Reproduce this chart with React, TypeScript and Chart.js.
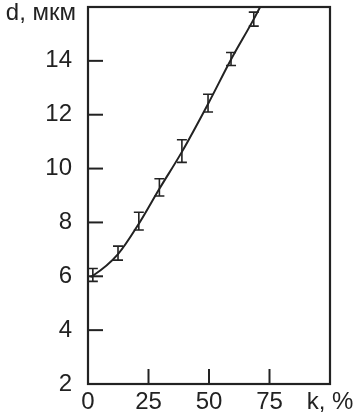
import React, { useEffect, useRef } from "react";
import { Chart, registerables } from "chart.js";

Chart.register(...registerables);

// Measured points (k, %) and thickness d (мкм) with error half-widths
const kValues = [2, 12.4, 21, 29.5, 38.8, 49.6, 59.1, 68.5];
const dValues = [6.05, 6.86, 8.05, 9.3, 10.65, 12.43, 14.07, 15.55];
const dErrors = [0.24, 0.26, 0.33, 0.32, 0.42, 0.33, 0.24, 0.26];

// Smooth fitted curve
const curveK = [1, 2, 12.4, 21, 29.5, 38.8, 49.6, 59.1, 68.5, 74];
const curveD = [5.98, 6.02, 6.82, 7.95, 9.25, 10.62, 12.4, 14.05, 15.55, 16.5];

const xTicks = [0, 25, 50, 75, 100];
const yTicks = [2, 4, 6, 8, 10, 12, 14, 16];
const xUnitLabel = "k, %";
const yUnitLabel = "d, мкм";

const INK = "#222";
const FONT = "'Liberation Sans', Arial, sans-serif";
const FONT_SIZE = 24;

const framePlugin = {
  id: "frameAndBars",
  afterDatasetsDraw(chart: any) {
    const { ctx, chartArea, scales } = chart;
    const xs = scales.x;
    const ys = scales.y;
    ctx.save();
    // error bars
    ctx.strokeStyle = INK;
    ctx.lineWidth = 1.6;
    for (let i = 0; i < kValues.length; i++) {
      const px = xs.getPixelForValue(kValues[i]);
      const pLo = ys.getPixelForValue(dValues[i] - dErrors[i]);
      const pHi = ys.getPixelForValue(dValues[i] + dErrors[i]);
      const cap = 5;
      ctx.beginPath();
      ctx.moveTo(px, pLo);
      ctx.lineTo(px, pHi);
      ctx.moveTo(px - cap, pLo);
      ctx.lineTo(px + cap, pLo);
      ctx.moveTo(px - cap, pHi);
      ctx.lineTo(px + cap, pHi);
      ctx.stroke();
    }
    // frame
    ctx.lineWidth = 2.2;
    ctx.strokeRect(chartArea.left, chartArea.top, chartArea.right - chartArea.left, chartArea.bottom - chartArea.top);
    // inward ticks
    ctx.lineWidth = 2;
    const tl = 15;
    for (const v of yTicks) {
      if (v === ys.min || v === ys.max) continue;
      const py = ys.getPixelForValue(v);
      ctx.beginPath();
      ctx.moveTo(chartArea.left, py);
      ctx.lineTo(chartArea.left + tl, py);
      ctx.stroke();
    }
    for (const v of xTicks) {
      if (v === xs.min || v === xs.max) continue;
      const px = xs.getPixelForValue(v);
      ctx.beginPath();
      ctx.moveTo(px, chartArea.bottom);
      ctx.lineTo(px, chartArea.bottom - tl);
      ctx.stroke();
    }
    // y unit label at the top
    ctx.fillStyle = INK;
    ctx.font = `${FONT_SIZE}px ${FONT}`;
    ctx.textAlign = "right";
    ctx.textBaseline = "alphabetic";
    ctx.fillText(yUnitLabel, chartArea.left - 12, ys.getPixelForValue(ys.max) + 13);
    ctx.restore();
  },
};

export default function App() {
  const ref = useRef<HTMLCanvasElement | null>(null);
  useEffect(() => {
    document.body.style.margin = "0";
    const canvas = ref.current;
    if (!canvas) return;
    const chart = new Chart(canvas, {
      type: "scatter",
      data: {
        datasets: [
          {
            type: "line",
            data: curveK.map((k, i) => ({ x: k, y: curveD[i] })),
            borderColor: INK,
            borderWidth: 2,
            pointRadius: 0,
            cubicInterpolationMode: "monotone",
            fill: false,
          } as any,
          {
            data: kValues.map((k, i) => ({ x: k, y: dValues[i] })),
            pointRadius: 0,
            borderColor: INK,
            backgroundColor: INK,
          },
        ],
      },
      options: {
        animation: false,
        responsive: true,
        maintainAspectRatio: false,
        layout: { padding: { top: 7, right: 0, left: 0, bottom: 0 } },
        plugins: { legend: { display: false }, tooltip: { enabled: false } },
        scales: {
          x: {
            type: "linear",
            min: 0,
            max: 100,
            afterBuildTicks: (s: any) => {
              s.ticks = xTicks.map((v) => ({ value: v }));
            },
            afterFit: (s: any) => {
              s.height = 33;
              s.paddingLeft = 0;
              s.paddingRight = 25;
            },
            grid: { display: false, drawTicks: false },
            border: { display: false },
            ticks: {
              color: INK,
              padding: 4,
              font: { family: FONT, size: FONT_SIZE },
              maxRotation: 0,
              autoSkip: false,
              callback: (v: any) => (v === 100 ? xUnitLabel : String(v)),
            },
          },
          y: {
            type: "linear",
            min: 2,
            max: 16,
            afterBuildTicks: (s: any) => {
              s.ticks = yTicks.map((v) => ({ value: v }));
            },
            afterFit: (s: any) => {
              s.width = 88;
              s.paddingTop = 0;
              s.paddingBottom = 0;
            },
            grid: { display: false, drawTicks: false },
            border: { display: false },
            ticks: {
              color: INK,
              padding: 16,
              font: { family: FONT, size: FONT_SIZE },
              autoSkip: false,
              callback: (v: any) => (v === 16 ? null : String(v)),
            },
          },
        },
      },
      plugins: [framePlugin],
    });
    return () => chart.destroy();
  }, []);
  return (
    <div style={{ width: 355, height: 417, position: "relative" }}>
      <canvas ref={ref} />
    </div>
  );
}
